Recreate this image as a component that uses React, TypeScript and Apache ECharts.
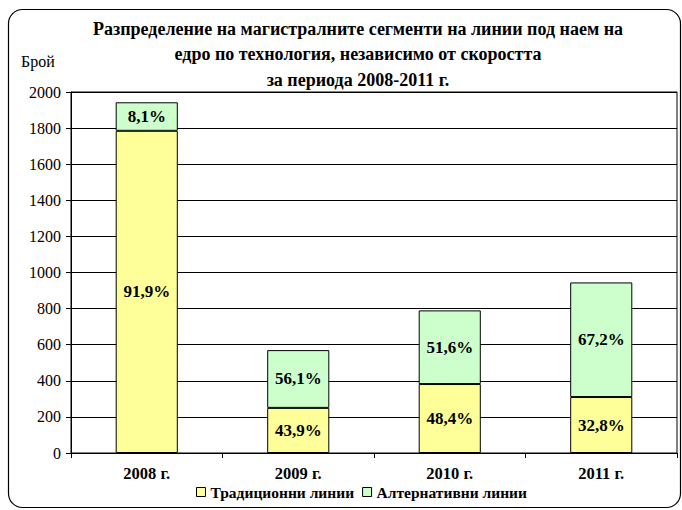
import React, { useEffect, useRef } from "react";
import * as echarts from "echarts";

const categories = ["2008 г.", "2009 г.", "2010 г.", "2011 г."];
const traditional = [1785, 250, 382, 310];
const alternative = [158, 320, 408, 635];
const traditionalLabels = ["91,9%", "43,9%", "48,4%", "32,8%"];
const alternativeLabels = ["8,1%", "56,1%", "51,6%", "67,2%"];
const seriesNames = ["Традиционни линии", "Алтернативни линии"];
const titleText = "Разпределение на магистралните сегменти на линии под наем на\nедро по технология, независимо от скоростта\nза периода 2008-2011 г.";
const yAxisName = "Брой";

const FONT = "'Liberation Serif', serif";

export default function App() {
  const ref = useRef<HTMLDivElement>(null);
  useEffect(() => {
    if (!ref.current) return;
    const chart = echarts.init(ref.current, null, { renderer: "svg" });
    const labelStyle = (labels: string[]) => ({
      show: true,
      position: "inside" as const,
      color: "#000",
      fontFamily: FONT,
      fontWeight: "bold" as const,
      fontSize: 17,
      formatter: (p: any) => labels[p.dataIndex],
    });
    chart.setOption({
      animation: false,
      backgroundColor: "#fff",
      graphic: [
        {
          type: "rect",
          shape: { x: 8.5, y: 9.5, width: 672, height: 498, r: 14 },
          style: { fill: "none", stroke: "#000", lineWidth: 1.2 },
          z: 100,
        },
        {
          type: "text",
          x: 21,
          y: 53,
          style: { text: yAxisName, fontFamily: FONT, fontSize: 16, fill: "#000" },
        },
      ],
      title: {
        text: titleText,
        left: 353,
        textAlign: "center",
        top: 11,
        textStyle: {
          fontFamily: FONT,
          fontWeight: "bold",
          fontSize: 18,
          lineHeight: 25.5,
          color: "#000",
        },
      },
      legend: {
        bottom: 5,
        left: 191,
        itemWidth: 9,
        itemHeight: 9,
        itemGap: 8,
        icon: "rect",
        itemStyle: { borderColor: "#000", borderWidth: 1 },
        textStyle: { fontFamily: FONT, fontWeight: "bold", fontSize: 15.5, color: "#000" },
        data: seriesNames,
      },
      grid: { left: 71, right: 5, top: 92, bottom: 57, show: true, borderColor: "#000", borderWidth: 1, backgroundColor: "transparent" },
      xAxis: {
        type: "category",
        data: categories,
        axisLine: { lineStyle: { color: "#000", width: 1 } },
        axisTick: { show: true, alignWithLabel: false, length: 5, lineStyle: { color: "#000" } },
        axisLabel: { fontFamily: FONT, fontWeight: "bold", fontSize: 16.5, color: "#000", margin: 12 },
      },
      yAxis: {
        type: "value",
        min: 0,
        max: 2000,
        interval: 200,
        axisLine: { show: true, lineStyle: { color: "#000" } },
        axisTick: { show: true, length: 5, lineStyle: { color: "#000" } },
        axisLabel: { fontFamily: FONT, fontSize: 16, color: "#000", margin: 10, formatter: (v: number) => String(v) },
        splitLine: { lineStyle: { color: "#000", width: 1 } },
      },
      series: [
        {
          name: seriesNames[0],
          type: "bar",
          stack: "total",
          data: traditional,
          barWidth: "41%",
          itemStyle: { color: "#FFFF99", borderColor: "#000", borderWidth: 1 },
          label: labelStyle(traditionalLabels),
        },
        {
          name: seriesNames[1],
          type: "bar",
          stack: "total",
          data: alternative,
          barWidth: "41%",
          itemStyle: { color: "#CCFFCC", borderColor: "#000", borderWidth: 1 },
          label: labelStyle(alternativeLabels),
        },
      ],
    });
    return () => chart.dispose();
  }, []);
  return (
    <div
      ref={ref}
      style={{ position: "absolute", left: 0, top: 0, width: 682, height: 510 }}
    />
  );
}
